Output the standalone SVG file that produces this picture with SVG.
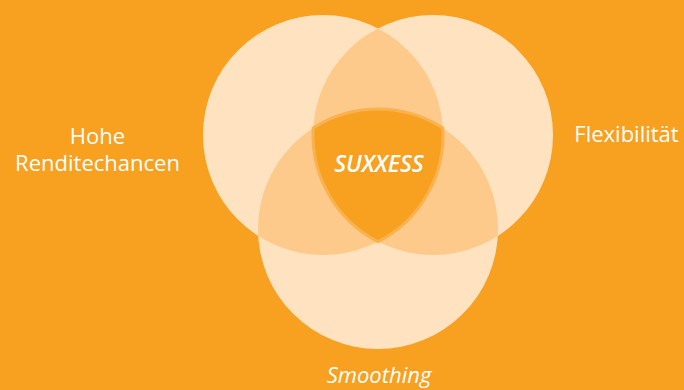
<svg xmlns="http://www.w3.org/2000/svg" width="684" height="390" viewBox="0 0 684 390">
<style>
.bg{fill:#F8A01F}
.c{fill:#FFE2BF}
.p{fill:#FECA8B}
.t{fill:#F8A01F;stroke:#F9B24E;stroke-width:3}
.lbl{font-family:"Open Sans","Noto Sans",sans-serif;font-size:22px;fill:#FFFFFF;text-anchor:middle}
.it{font-style:italic}
</style>
<defs>
<clipPath id="clipL"><circle cx="323" cy="135" r="120"/></clipPath>
<clipPath id="clipR"><circle cx="433" cy="135" r="120"/></clipPath>
</defs>
<rect class="bg" x="0" y="0" width="684" height="390"/>
<g id="circle-rendite"><circle class="c" cx="323" cy="135" r="120"/></g>
<g id="circle-flex"><circle class="c" cx="433" cy="135" r="120"/></g>
<g id="circle-smoothing"><circle class="c" cx="378" cy="229" r="120"/></g>
<g id="overlaps">
<circle class="p" cx="433" cy="135" r="120" clip-path="url(#clipL)"/>
<circle class="p" cx="378" cy="229" r="120" clip-path="url(#clipL)"/>
<circle class="p" cx="378" cy="229" r="120" clip-path="url(#clipR)"/>
</g>
<g id="suxxess">
<path class="t" d="M313.2 128 A120 120 0 0 1 442.8 128 A120 120 0 0 1 378 241.7 A120 120 0 0 1 313.2 128 Z"/>
<text class="lbl it" x="379" y="172" font-weight="600" style="font-size:23px">SUXXESS</text>
</g>
<g id="label-rendite">
<text class="lbl" x="97.5" y="144">Hohe</text>
<text class="lbl" x="97.5" y="171">Renditechancen</text>
</g>
<g id="label-flex"><text class="lbl" x="626.5" y="142">Flexibilität</text></g>
<g id="label-smoothing"><text class="lbl it" x="379" y="383" style="font-size:22px">Smoothing</text></g>
</svg>
